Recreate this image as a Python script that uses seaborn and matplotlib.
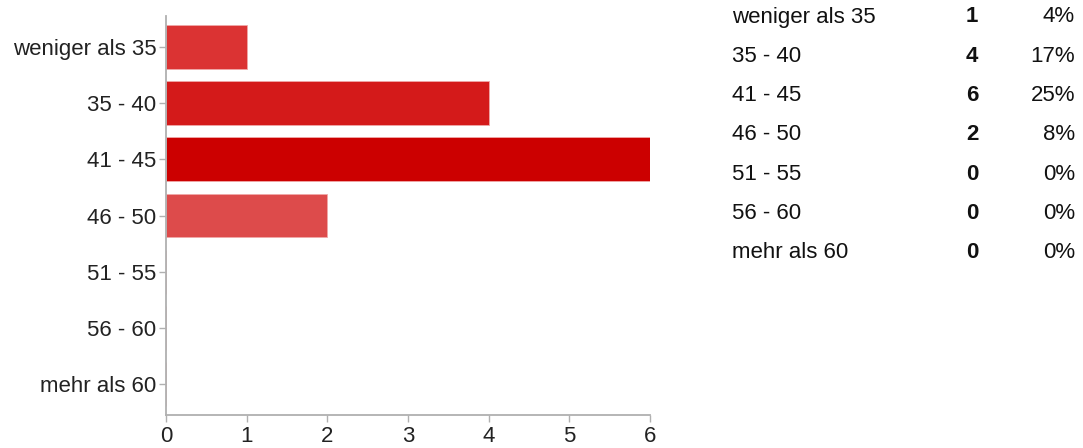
import matplotlib
matplotlib.use("Agg")
import matplotlib.pyplot as plt
import seaborn as sns
import pandas as pd

# Age groups and answer counts
categories = ["weniger als 35", "35 - 40", "41 - 45", "46 - 50", "51 - 55", "56 - 60", "mehr als 60"]
counts = [1, 4, 6, 2, 0, 0, 0]
percents = [4, 17, 25, 8, 0, 0, 0]
bar_colors = ["#db3333", "#d41a1a", "#cc0000", "#dd4b4b", "#e06666", "#e37f7f", "#e69999"]
x_ticks = [0, 1, 2, 3, 4, 5, 6]

sns.set_style("ticks")
plt.rcParams["font.family"] = ["Liberation Sans", "DejaVu Sans"]

df = pd.DataFrame({"Alter": categories, "Anzahl": counts})

fig = plt.figure(figsize=(10.83, 4.48), dpi=100)
ax = fig.add_axes([0.1533, 0.0737, 0.4467, 0.8903])

sns.barplot(data=df, x="Anzahl", y="Alter", hue="Alter", palette=bar_colors,
            order=categories, hue_order=categories, legend=False, saturation=1,
            width=0.78, edgecolor="#f0a8a8", linewidth=0.6, ax=ax)

ax.set_xlim(0, 6)
ax.set_ylim(6.55, -0.55)
ax.set_xticks(x_ticks)
ax.set_xlabel(None)
ax.set_ylabel(None)

for side in ["top", "right"]:
    ax.spines[side].set_visible(False)
for side in ["left", "bottom"]:
    ax.spines[side].set_color("#b0b0b0")
    ax.spines[side].set_linewidth(1.3)

ax.tick_params(axis="both", which="both", direction="out", length=5, width=1,
               bottom=True, left=True,
               color="#b0b0b0", labelcolor="#222222", labelsize=16, pad=2)
ax.tick_params(axis="x", pad=3)

# Summary table on the right
row_y0 = 448 - 17
row_step = 39.3
for i, (cat, n, p) in enumerate(zip(categories, counts, percents)):
    y = (row_y0 - i * row_step) / 448
    fig.text(732 / 1083, y, cat, ha="left", va="center", fontsize=16, color="#111111")
    fig.text(972 / 1083, y, str(n), ha="center", va="center", fontsize=16,
             fontweight="bold", color="#111111")
    fig.text(1075 / 1083, y, f"{p}%", ha="right", va="center", fontsize=16, color="#111111")

plt.savefig("out.png", dpi=100)
plt.close()
